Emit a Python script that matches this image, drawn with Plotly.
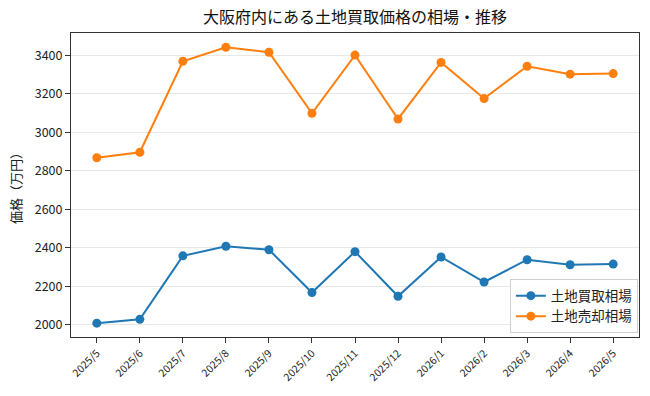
import plotly.graph_objects as go

months = ["2025/5", "2025/6", "2025/7", "2025/8", "2025/9", "2025/10", "2025/11",
          "2025/12", "2026/1", "2026/2", "2026/3", "2026/4", "2026/5"]
buy_prices = [2008, 2028, 2358, 2408, 2390, 2167, 2380, 2148, 2352, 2222, 2338, 2312, 2315]
sell_prices = [2868, 2897, 3370, 3443, 3417, 3099, 3402, 3070, 3364, 3176, 3344, 3303, 3306]
series_names = ["土地買取相場", "土地売却相場"]
colors = ["#1f77b4", "#ff7f0e"]

FONT = "Noto Sans CJK JP"

fig = go.Figure()
for name, vals, col in zip(series_names, [buy_prices, sell_prices], colors):
    fig.add_trace(go.Scatter(
        x=months, y=vals, name=name, mode="lines+markers",
        line=dict(color=col, width=2),
        marker=dict(color=col, size=9),
    ))

fig.update_layout(
    width=650, height=396,
    margin=dict(l=71, r=11, t=33, b=59),
    paper_bgcolor="white", plot_bgcolor="white",
    font=dict(family=FONT, color="#222222", size=13),
    title=dict(text="大阪府内にある土地買取価格の相場・推移", x=(71 + 639) / 2 / 650,
               xanchor="center", y=1 - 17 / 396, yanchor="middle",
               font=dict(size=16, color="#111111")),
    showlegend=True,
    legend=dict(x=0.998, y=0.012, xanchor="right", yanchor="bottom",
                bgcolor="rgba(255,255,255,0.85)", bordercolor="#d0d0d0", borderwidth=1,
                font=dict(size=13.5), itemwidth=30),
)
fig.update_xaxes(
    type="category", range=[-0.6, 12.6],
    showline=True, linecolor="#333333", linewidth=1, mirror=True,
    ticks="outside", ticklen=5, tickcolor="#333333",
    tickangle=-45, tickfont=dict(size=10.5),
    showgrid=False, zeroline=False,
)
fig.update_yaxes(
    range=[1936, 3517], tickvals=[2000, 2200, 2400, 2600, 2800, 3000, 3200, 3400],
    showline=True, linecolor="#333333", linewidth=1, mirror=True,
    ticks="outside", ticklen=5, tickcolor="#333333",
    tickfont=dict(size=12.5),
    showgrid=True, gridcolor="#e8e8e8", gridwidth=1, zeroline=False,
    title=dict(text="価格（万円）", font=dict(size=13), standoff=10),
)

fig.write_html("out.html")
